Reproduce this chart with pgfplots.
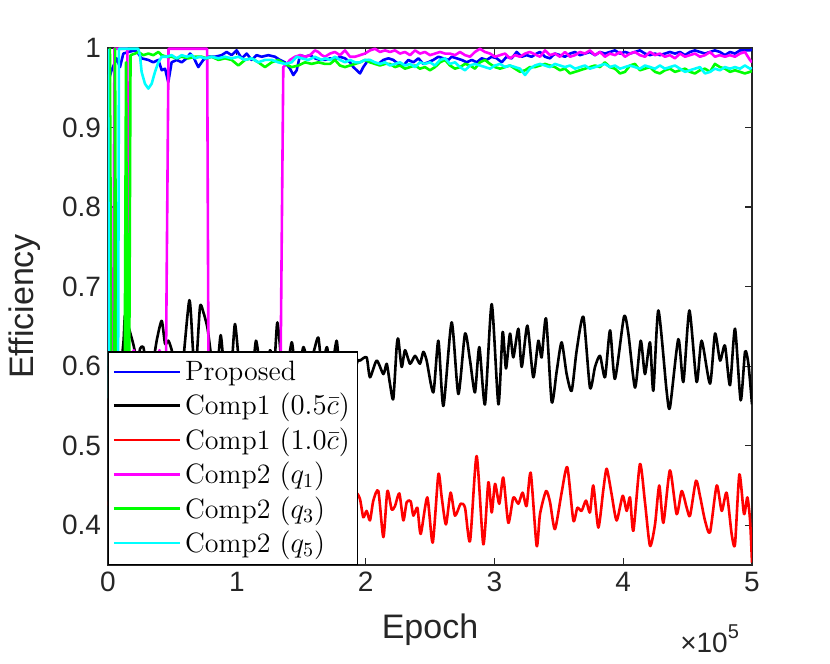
\documentclass[border=0pt]{standalone}
\usepackage{fontspec}
\usepackage{pgfplots}
\pgfplotsset{compat=1.18}
\newfontfamily\hel{Liberation Sans}
\definecolor{axgray}{rgb}{0.15,0.15,0.15}
\definecolor{mblue}{rgb}{0,0,1}
\definecolor{mred}{rgb}{1,0,0}
\definecolor{mmag}{rgb}{1,0,1}
\definecolor{mgreen}{rgb}{0,1,0}
\definecolor{mcyan}{rgb}{0,1,1}
\begin{document}
\begin{tikzpicture}
\path[use as bounding box] (-54pt,-49.5pt) rectangle (361pt,282.5pt);
\begin{axis}[
 at={(0,0)}, anchor=south west,
 scale only axis, width=322pt, height=258.5pt,
 xmin=0, xmax=5, ymin=0.35, ymax=1,
 xtick={0,1,2,3,4,5}, xticklabels={0,1,2,3,4,5},
 ytick={0.4,0.5,0.6,0.7,0.8,0.9,1}, yticklabels={0.4,0.5,0.6,0.7,0.8,0.9,1},
 tick align=inside, tick pos=both, major tick length=3.5pt,
 axis line style={axgray, line width=0.6pt},
 every tick/.style={axgray, line width=0.6pt},
 ticklabel style={font=\hel\fontsize{14}{14}\selectfont, text=axgray},
 /pgf/number format/assume math mode=true,
 xlabel={Epoch}, ylabel={Efficiency},
 label style={font=\hel\fontsize{17}{17}\selectfont, text=axgray},
 xlabel style={at={(axis description cs:0.5,-0.1257)}, anchor=center},
 ylabel style={at={(axis description cs:-0.129,0.5)}, anchor=center},
 legend style={at={(0,0)}, anchor=south west, draw=black, line width=0.6pt, fill=white,
   font=\fontsize{14}{17}\selectfont, inner xsep=2pt, inner ysep=2.5pt, row sep=0.9pt},
 legend cell align=left,
 legend image code/.code={\draw[#1, line width=1.3pt] (0pt,0pt) -- (33pt,0pt);},
 every axis plot/.append style={line width=1.3pt, line join=round},
]
\addplot[mblue] coordinates {(0.008,0.961)(0.028,0.972)(0.067,0.987)(0.093,0.976)(0.119,0.993)(0.158,0.995)(0.210,0.997)(0.235,0.993)(0.261,0.987)(0.313,0.985)(0.352,0.982)(0.391,0.985)(0.417,0.972)(0.443,0.974)(0.468,0.957)(0.494,0.982)(0.533,0.985)(0.572,0.982)(0.611,0.987)(0.637,0.993)(0.662,0.989)(0.701,0.976)(0.740,0.985)(0.779,0.989)(0.831,0.989)(0.882,0.991)(0.921,0.995)(0.960,0.991)(0.999,0.997)(1.038,0.987)(1.077,0.993)(1.115,0.985)(1.154,0.991)(1.193,0.989)(1.245,0.991)(1.296,0.989)(1.335,0.985)(1.374,0.982)(1.413,0.974)(1.439,0.966)(1.465,0.972)(1.491,0.991)(1.530,0.989)(1.568,0.991)(1.607,0.987)(1.646,0.985)(1.685,0.985)(1.724,0.987)(1.762,0.985)(1.801,0.989)(1.840,0.987)(1.879,0.982)(1.905,0.976)(1.931,0.972)(1.957,0.968)(1.982,0.976)(2.021,0.985)(2.060,0.982)(2.099,0.980)(2.138,0.985)(2.177,0.987)(2.215,0.985)(2.254,0.980)(2.293,0.978)(2.332,0.985)(2.371,0.982)(2.410,0.987)(2.448,0.980)(2.487,0.982)(2.526,0.985)(2.565,0.989)(2.604,0.987)(2.643,0.985)(2.668,0.989)(2.707,0.987)(2.746,0.985)(2.785,0.982)(2.824,0.985)(2.862,0.982)(2.901,0.987)(2.940,0.985)(2.979,0.989)(3.018,0.987)(3.057,0.982)(3.095,0.989)(3.134,0.987)(3.173,0.995)(3.212,0.989)(3.250,0.991)(3.289,0.989)(3.328,0.993)(3.354,0.995)(3.393,0.989)(3.431,0.987)(3.470,0.993)(3.509,0.991)(3.548,0.989)(3.587,0.993)(3.626,0.995)(3.664,0.991)(3.703,0.993)(3.742,0.995)(3.781,0.991)(3.820,0.995)(3.858,0.993)(3.897,0.995)(3.936,0.997)(3.975,0.993)(4.014,0.995)(4.053,0.993)(4.091,0.995)(4.130,0.997)(4.169,0.993)(4.208,0.991)(4.247,0.993)(4.285,0.991)(4.324,0.993)(4.363,0.995)(4.402,0.993)(4.441,0.995)(4.480,0.991)(4.518,0.995)(4.557,0.997)(4.596,0.995)(4.635,0.993)(4.674,0.995)(4.712,0.997)(4.751,0.995)(4.790,0.991)(4.829,0.995)(4.868,0.993)(4.907,0.997)(4.945,0.997)(4.984,0.997)(5.0,0.998)};
\addlegendentry{Proposed}
\addplot[black, smooth, tension=0.4] coordinates {(0,0.60)(0.03,0.58)(0.06,0.61)(0.09,0.59)(0.12,0.63)(0.132,0.664)(0.16,0.649)(0.196,0.628)(0.23,0.604)(0.249,0.622)(0.274,0.624)(0.30,0.600)(0.33,0.585)(0.378,0.632)(0.417,0.657)(0.443,0.628)(0.469,0.632)(0.495,0.620)(0.52,0.60)(0.55,0.57)(0.58,0.60)(0.632,0.683)(0.66,0.62)(0.68,0.59)(0.714,0.674)(0.74,0.668)(0.771,0.649)(0.792,0.624)(0.82,0.59)(0.85,0.60)(0.875,0.639)(0.90,0.60)(0.93,0.575)(0.96,0.60)(0.986,0.653)(1.02,0.60)(1.05,0.58)(1.09,0.60)(1.12,0.59)(1.149,0.632)(1.18,0.60)(1.21,0.58)(1.258,0.620)(1.29,0.60)(1.315,0.655)(1.35,0.60)(1.38,0.585)(1.426,0.630)(1.45,0.60)(1.48,0.59)(1.517,0.624)(1.56,0.60)(1.60,0.62)(1.633,0.636)(1.66,0.60)(1.70,0.624)(1.73,0.59)(1.775,0.632)(1.80,0.59)(1.85,0.61)(1.90,0.59)(1.94,0.607)(1.957,0.607)(2.008,0.611)(2.034,0.586)(2.086,0.607)(2.138,0.590)(2.164,0.603)(2.189,0.578)(2.215,0.559)(2.241,0.624)(2.254,0.634)(2.280,0.599)(2.306,0.620)(2.345,0.603)(2.384,0.613)(2.422,0.603)(2.448,0.618)(2.474,0.607)(2.526,0.567)(2.565,0.632)(2.604,0.550)(2.668,0.655)(2.720,0.565)(2.772,0.641)(2.811,0.607)(2.849,0.567)(2.883,0.624)(2.927,0.552)(2.979,0.678)(3.031,0.552)(3.064,0.643)(3.090,0.597)(3.121,0.641)(3.147,0.611)(3.186,0.647)(3.212,0.599)(3.256,0.651)(3.302,0.586)(3.341,0.632)(3.367,0.611)(3.401,0.660)(3.445,0.555)(3.484,0.594)(3.522,0.630)(3.561,0.590)(3.600,0.569)(3.639,0.620)(3.691,0.662)(3.742,0.573)(3.781,0.599)(3.820,0.613)(3.859,0.586)(3.898,0.645)(3.936,0.584)(4.006,0.662)(4.040,0.641)(4.092,0.573)(4.136,0.632)(4.169,0.590)(4.208,0.630)(4.234,0.569)(4.273,0.670)(4.337,0.569)(4.363,0.548)(4.428,0.634)(4.467,0.580)(4.514,0.670)(4.570,0.580)(4.609,0.632)(4.674,0.578)(4.713,0.641)(4.752,0.607)(4.790,0.626)(4.829,0.576)(4.868,0.647)(4.912,0.557)(4.946,0.618)(4.972,0.603)(5.0,0.552)};
\addlegendentry{Comp1 $(0.5\bar{c})$}
\addplot[mred, smooth, tension=0.4] coordinates {(0,0.43)(0.08,0.40)(0.16,0.45)(0.24,0.41)(0.32,0.43)(0.40,0.39)(0.48,0.44)(0.56,0.42)(0.64,0.46)(0.72,0.40)(0.80,0.42)(0.88,0.38)(0.96,0.44)(1.04,0.41)(1.12,0.45)(1.20,0.40)(1.28,0.43)(1.36,0.39)(1.44,0.44)(1.52,0.42)(1.60,0.46)(1.68,0.40)(1.76,0.43)(1.84,0.41)(1.92,0.44)(1.956,0.433)(1.982,0.410)(2.008,0.418)(2.034,0.406)(2.060,0.431)(2.099,0.443)(2.138,0.385)(2.169,0.443)(2.202,0.420)(2.228,0.424)(2.262,0.440)(2.293,0.406)(2.319,0.429)(2.350,0.430)(2.371,0.412)(2.402,0.422)(2.428,0.389)(2.479,0.435)(2.521,0.378)(2.565,0.464)(2.591,0.435)(2.624,0.401)(2.660,0.441)(2.694,0.412)(2.738,0.427)(2.772,0.422)(2.811,0.380)(2.862,0.487)(2.914,0.376)(2.953,0.454)(2.979,0.416)(3.005,0.452)(3.038,0.427)(3.069,0.460)(3.108,0.403)(3.147,0.435)(3.186,0.427)(3.219,0.441)(3.250,0.424)(3.282,0.466)(3.328,0.374)(3.354,0.414)(3.401,0.443)(3.432,0.429)(3.470,0.395)(3.522,0.441)(3.566,0.473)(3.613,0.406)(3.644,0.422)(3.677,0.418)(3.711,0.431)(3.742,0.416)(3.768,0.450)(3.807,0.397)(3.846,0.445)(3.872,0.471)(3.910,0.439)(3.949,0.406)(3.996,0.437)(4.027,0.418)(4.053,0.435)(4.079,0.393)(4.130,0.477)(4.169,0.429)(4.208,0.374)(4.247,0.401)(4.280,0.450)(4.312,0.403)(4.363,0.469)(4.415,0.414)(4.454,0.443)(4.493,0.422)(4.519,0.412)(4.565,0.456)(4.596,0.437)(4.635,0.406)(4.674,0.391)(4.726,0.450)(4.765,0.418)(4.803,0.441)(4.842,0.389)(4.868,0.376)(4.902,0.464)(4.938,0.414)(4.964,0.435)(4.985,0.406)(5.0,0.353)};
\addlegendentry{Comp1 $(1.0\bar{c})$}
\addplot[mmag] coordinates {(0,0.72)(0.01,0.62)(0.04,0.60)(0.05,0.999)(0.15,0.999)(0.16,0.60)(0.20,0.62)(0.25,0.60)(0.30,0.61)(0.35,0.60)(0.40,0.62)(0.45,0.60)(0.47,0.999)(0.77,0.999)(0.78,0.60)(0.85,0.61)(0.95,0.60)(1.05,0.61)(1.15,0.60)(1.25,0.61)(1.34,0.60)(1.361,0.976)(1.387,0.980)(1.413,0.985)(1.452,0.989)(1.491,0.991)(1.530,0.989)(1.568,0.991)(1.607,0.997)(1.633,0.995)(1.660,0.991)(1.685,0.989)(1.724,0.993)(1.762,0.995)(1.801,0.991)(1.840,0.997)(1.879,0.989)(1.918,0.989)(1.957,0.991)(1.995,0.993)(2.034,0.997)(2.073,0.999)(2.112,0.995)(2.151,0.997)(2.189,0.995)(2.228,0.997)(2.267,0.993)(2.306,0.995)(2.345,0.991)(2.384,0.997)(2.422,0.993)(2.461,0.995)(2.500,0.991)(2.539,0.993)(2.578,0.995)(2.617,0.993)(2.655,0.993)(2.694,0.991)(2.733,0.995)(2.772,0.991)(2.811,0.989)(2.849,0.995)(2.888,0.999)(2.927,0.995)(2.966,0.993)(3.005,0.989)(3.044,0.991)(3.082,0.993)(3.121,0.987)(3.160,0.991)(3.199,0.989)(3.238,0.993)(3.276,0.995)(3.315,0.992)(3.354,0.989)(3.393,0.997)(3.431,0.991)(3.470,0.993)(3.509,0.989)(3.548,0.995)(3.587,0.989)(3.626,0.991)(3.664,0.995)(3.703,0.993)(3.742,0.997)(3.781,0.991)(3.820,0.995)(3.858,0.989)(3.897,0.993)(3.936,0.991)(3.975,0.995)(4.014,0.989)(4.053,0.993)(4.091,0.995)(4.130,0.991)(4.169,0.989)(4.208,0.995)(4.247,0.991)(4.285,0.993)(4.324,0.989)(4.363,0.991)(4.402,0.987)(4.441,0.993)(4.480,0.989)(4.518,0.991)(4.557,0.993)(4.596,0.989)(4.635,0.991)(4.674,0.995)(4.712,0.989)(4.751,0.991)(4.790,0.989)(4.829,0.991)(4.868,0.989)(4.907,0.993)(4.945,0.995)(4.984,0.985)(5.0,0.982)};
\addlegendentry{Comp2 $(q_1)$}
\addplot[mgreen] coordinates {(0,0.90)(0.015,0.999)(0.025,0.60)(0.05,0.60)(0.055,0.999)(0.062,0.60)(0.13,0.60)(0.14,0.982)(0.15,0.60)(0.165,0.60)(0.175,0.991)(0.210,0.993)(0.235,0.995)(0.274,0.991)(0.313,0.993)(0.352,0.991)(0.391,0.995)(0.417,0.991)(0.456,0.989)(0.494,0.989)(0.533,0.987)(0.572,0.989)(0.624,0.987)(0.675,0.989)(0.727,0.989)(0.766,0.987)(0.805,0.989)(0.857,0.985)(0.908,0.987)(0.960,0.985)(1.012,0.978)(1.064,0.985)(1.115,0.987)(1.167,0.982)(1.219,0.976)(1.271,0.982)(1.322,0.985)(1.374,0.980)(1.426,0.976)(1.478,0.978)(1.530,0.982)(1.581,0.980)(1.633,0.982)(1.685,0.980)(1.724,0.980)(1.762,0.985)(1.801,0.978)(1.840,0.976)(1.879,0.978)(1.918,0.980)(1.957,0.982)(1.995,0.985)(2.034,0.982)(2.073,0.980)(2.112,0.978)(2.151,0.980)(2.189,0.980)(2.228,0.976)(2.267,0.978)(2.306,0.974)(2.345,0.976)(2.384,0.978)(2.422,0.974)(2.461,0.976)(2.500,0.972)(2.539,0.976)(2.578,0.982)(2.617,0.985)(2.655,0.978)(2.694,0.974)(2.733,0.976)(2.772,0.980)(2.811,0.978)(2.849,0.974)(2.888,0.982)(2.927,0.985)(2.966,0.980)(3.005,0.976)(3.044,0.974)(3.082,0.976)(3.121,0.978)(3.160,0.974)(3.199,0.970)(3.238,0.972)(3.276,0.976)(3.315,0.976)(3.354,0.978)(3.393,0.980)(3.431,0.978)(3.470,0.976)(3.509,0.972)(3.548,0.974)(3.587,0.968)(3.626,0.970)(3.664,0.972)(3.703,0.974)(3.742,0.976)(3.781,0.978)(3.820,0.976)(3.858,0.982)(3.897,0.976)(3.936,0.974)(3.975,0.968)(4.014,0.970)(4.053,0.978)(4.091,0.980)(4.130,0.972)(4.169,0.974)(4.208,0.976)(4.247,0.970)(4.285,0.968)(4.324,0.972)(4.363,0.974)(4.402,0.970)(4.441,0.972)(4.480,0.974)(4.518,0.970)(4.557,0.968)(4.596,0.972)(4.635,0.974)(4.674,0.970)(4.712,0.980)(4.751,0.976)(4.790,0.974)(4.829,0.970)(4.868,0.972)(4.907,0.970)(4.945,0.968)(4.984,0.970)(5.0,0.971)};
\addlegendentry{Comp2 $(q_3)$}
\addplot[mcyan] coordinates {(0,0.999)(0.008,0.56)(0.04,0.57)(0.078,0.56)(0.085,0.999)(0.235,0.999)(0.248,0.991)(0.261,0.970)(0.287,0.955)(0.313,0.949)(0.339,0.955)(0.365,0.970)(0.391,0.982)(0.417,0.989)(0.456,0.989)(0.494,0.991)(0.533,0.987)(0.572,0.991)(0.611,0.989)(0.650,0.991)(0.675,0.987)(0.714,0.989)(0.753,0.987)(0.805,0.989)(0.857,0.987)(0.908,0.989)(0.960,0.987)(1.012,0.989)(1.064,0.985)(1.115,0.987)(1.167,0.982)(1.219,0.985)(1.271,0.985)(1.322,0.982)(1.374,0.980)(1.426,0.982)(1.465,0.989)(1.504,0.987)(1.556,0.985)(1.607,0.989)(1.659,0.985)(1.685,0.987)(1.724,0.985)(1.762,0.989)(1.801,0.985)(1.840,0.982)(1.879,0.985)(1.918,0.982)(1.957,0.982)(1.995,0.985)(2.034,0.985)(2.073,0.982)(2.112,0.980)(2.151,0.982)(2.189,0.978)(2.228,0.980)(2.267,0.982)(2.306,0.978)(2.345,0.980)(2.384,0.976)(2.422,0.982)(2.461,0.980)(2.500,0.982)(2.539,0.978)(2.578,0.985)(2.617,0.987)(2.655,0.980)(2.694,0.982)(2.733,0.976)(2.772,0.972)(2.811,0.978)(2.849,0.980)(2.888,0.978)(2.927,0.976)(2.966,0.974)(3.005,0.978)(3.044,0.980)(3.082,0.976)(3.121,0.978)(3.160,0.976)(3.199,0.974)(3.238,0.966)(3.276,0.974)(3.315,0.978)(3.354,0.980)(3.393,0.978)(3.431,0.976)(3.470,0.980)(3.509,0.978)(3.548,0.976)(3.587,0.978)(3.626,0.974)(3.664,0.976)(3.703,0.978)(3.742,0.974)(3.781,0.976)(3.820,0.978)(3.858,0.980)(3.897,0.976)(3.936,0.978)(3.975,0.974)(4.014,0.976)(4.053,0.978)(4.091,0.976)(4.130,0.974)(4.169,0.978)(4.208,0.976)(4.247,0.974)(4.285,0.978)(4.324,0.974)(4.363,0.976)(4.402,0.978)(4.441,0.974)(4.480,0.970)(4.518,0.972)(4.557,0.974)(4.596,0.976)(4.635,0.968)(4.674,0.970)(4.712,0.974)(4.751,0.972)(4.790,0.976)(4.829,0.974)(4.868,0.976)(4.907,0.974)(4.945,0.978)(4.984,0.974)(5.0,0.975)};
\addlegendentry{Comp2 $(q_5)$}
\end{axis}
\node[anchor=east, xshift=-3pt, yshift=-37pt, font=\hel\fontsize{14}{14}\selectfont, text=axgray] at (current axis.south east) {×10\raisebox{0.5em}{\fontsize{10}{10}\selectfont 5}};
\end{tikzpicture}
\end{document}
